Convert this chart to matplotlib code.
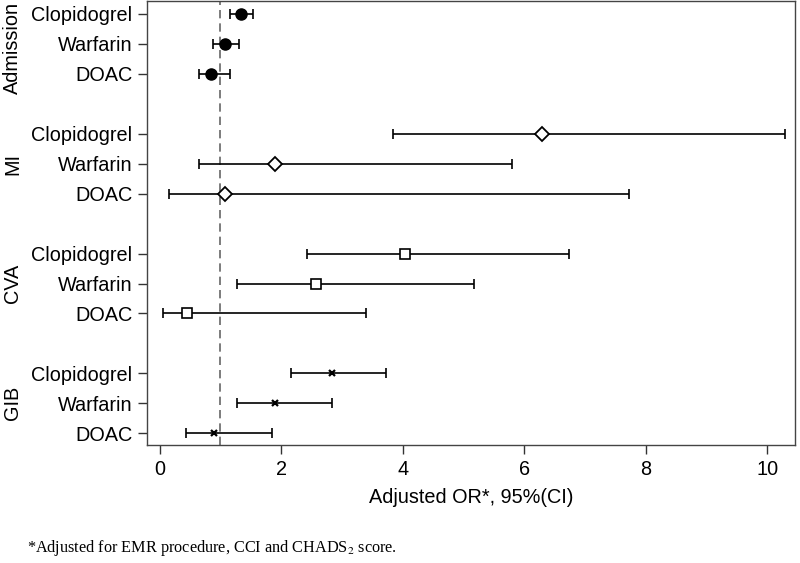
import matplotlib.pyplot as plt
import numpy as np
from matplotlib.transforms import blended_transform_factory

plt.rcParams['font.family'] = ['Liberation Sans', 'DejaVu Sans']
plt.rcParams['mathtext.fontset'] = 'stix'

# data
groups = ["Admission", "MI", "CVA", "GIB"]
drugs = ["Clopidogrel", "Warfarin", "DOAC"]

or_adm = [1.33, 1.07, 0.85]
lo_adm = [1.15, 0.87, 0.64]
hi_adm = [1.54, 1.31, 1.16]

or_mi = [6.29, 1.90, 1.07]
lo_mi = [3.84, 0.64, 0.15]
hi_mi = [10.30, 5.80, 7.73]

or_cva = [4.04, 2.57, 0.45]
lo_cva = [2.42, 1.28, 0.05]
hi_cva = [6.74, 5.17, 3.39]

or_gib = [2.83, 1.89, 0.89]
lo_gib = [2.16, 1.28, 0.44]
hi_gib = [3.73, 2.83, 1.85]

xticks = [0, 2, 4, 6, 8, 10]

ors = [or_adm, or_mi, or_cva, or_gib]
los = [lo_adm, lo_mi, lo_cva, lo_gib]
his = [hi_adm, hi_mi, hi_cva, hi_gib]

# marker style per group
styles = [dict(marker='o', ms=8, mfc='black', mec='black'),
          dict(marker='D', ms=7.5, mfc='white', mec='black', mew=1.3),
          dict(marker='s', ms=7, mfc='white', mec='black', mew=1.2),
          dict(marker='x', ms=4.5, mec='black', mew=1.6)]

fig = plt.figure(figsize=(8, 5.63), dpi=100)
ax = fig.add_axes([0.18375, 0.2096, 0.81, 0.7886])
trans = blended_transform_factory(fig.transFigure, ax.transData)

ypos = []
ylab = []
for g in range(4):
    y = np.arange(3) + 4 * g
    o = np.array(ors[g])
    err = [o - np.array(los[g]), np.array(his[g]) - o]
    ax.errorbar(o, y, xerr=err, fmt='none', ecolor='black', elinewidth=1.2,
                capsize=3.3, capthick=1.2, zorder=2)
    ax.plot(o, y, linestyle='none', zorder=3, **styles[g])
    ypos += list(y)
    ylab += drugs
    # top label nudged down a bit so it stays inside the figure
    ly = 4 * g + 1 + (0.12 if g == 0 else 0)
    ax.text(0.016, ly, groups[g], rotation=90, ha='center', va='center',
            fontsize=14.3, transform=trans)

ax.axvline(1, color='#666666', linestyle=(0, (5, 3)), linewidth=1.2, zorder=1)

ax.set_yticks(ypos)
ax.set_yticklabels(ylab, fontsize=14.3)
ax.set_xticks(xticks)
ax.set_xticklabels([str(t) for t in xticks], fontsize=14.3)
ax.set_xlim(-0.21, 10.46)
ax.set_ylim(14.39, -0.43)
ax.tick_params(axis='both', length=6.5, width=1, color='#333333', pad=4)
for s in ax.spines.values():
    s.set_color('#444444')
    s.set_linewidth(1)

ax.set_xlabel("Adjusted OR*, 95%(CI)", fontsize=14.3, labelpad=7)

fig.text(0.034, 0.027, r"*Adjusted for EMR procedure, CCI and CHADS$_2$ score.",
         family='Liberation Serif', fontsize=11.7, ha='left', va='center')

fig.savefig("out.png", dpi=100)
